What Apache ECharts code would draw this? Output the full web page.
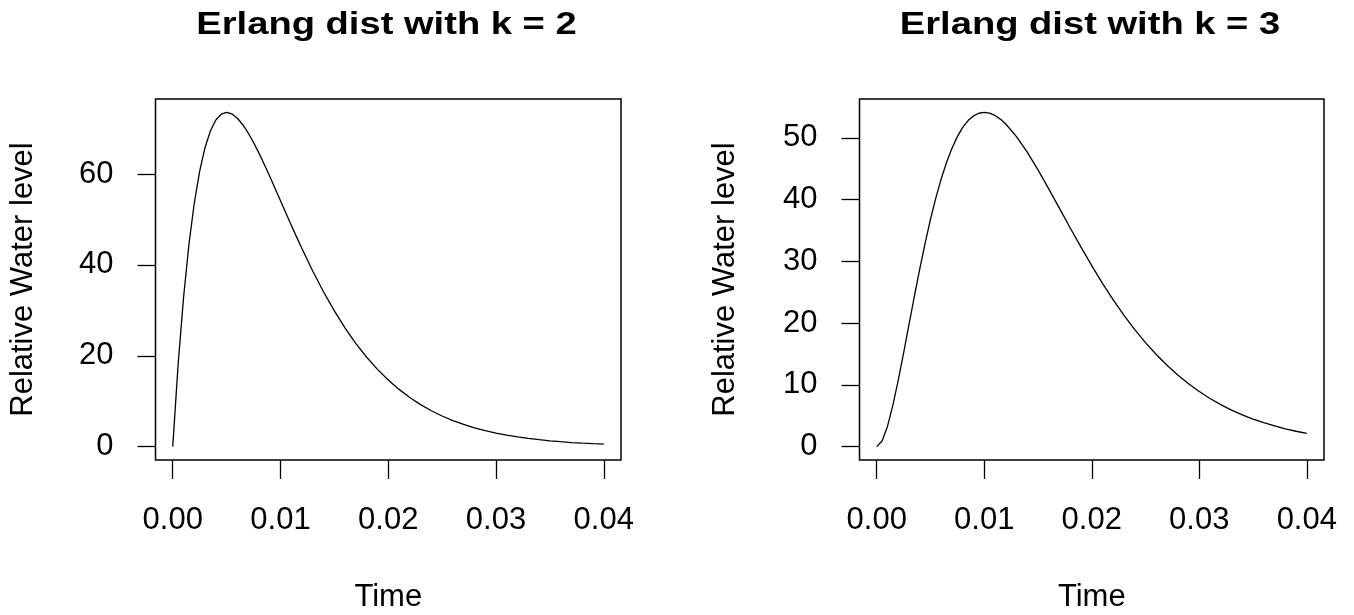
<!DOCTYPE html>
<html>
<head>
<meta charset="utf-8">
<script src="https://cdn.jsdelivr.net/npm/echarts@6/dist/echarts.min.js"></script>
<style>
  html, body { margin: 0; padding: 0; background: #fff; }
  #chart { width: 1354px; height: 615px; }
</style>
</head>
<body>
<div id="chart"></div>
<script>
// ---- data ----
var time = [0, 0.0005, 0.001, 0.0015, 0.002, 0.0025, 0.003, 0.0035, 0.004, 0.0045,
  0.005, 0.0055, 0.006, 0.0065, 0.007, 0.0075, 0.008, 0.0085, 0.009, 0.0095,
  0.01, 0.0105, 0.011, 0.0115, 0.012,
  0.013, 0.014, 0.015, 0.016, 0.017, 0.018, 0.019, 0.020, 0.021, 0.022,
  0.023, 0.024, 0.025, 0.026, 0.027, 0.028, 0.029, 0.030, 0.031, 0.032,
  0.033, 0.034, 0.035, 0.036, 0.037, 0.038, 0.039, 0.040];

var levelK2 = [0, 18.10, 32.75, 44.45, 53.63, 60.65, 65.86, 69.52, 71.89, 73.18,
  73.58, 73.23, 72.29, 70.86, 69.05, 66.94, 64.61, 62.11, 59.51, 56.84,
  54.13, 51.43, 48.75, 46.12, 43.54,
  38.62, 34.05, 29.87, 26.09, 22.69, 19.67, 17.00, 14.65, 12.60, 10.80,
  9.25, 7.90, 6.74, 5.74, 4.88, 4.14, 3.51, 2.97, 2.52, 2.13,
  1.80, 1.52, 1.28, 1.08, 0.90, 0.76, 0.64, 0.54];

var levelK3 = [0, 0.90, 3.27, 6.67, 10.73, 15.16, 19.76, 24.33, 28.76, 32.93,
  36.79, 40.28, 43.37, 46.06, 48.33, 50.20, 51.69, 52.80, 53.56, 53.99,
  54.13, 54.00, 53.63, 53.04, 52.25,
  50.21, 47.68, 44.81, 41.74, 38.58, 35.41, 32.30, 29.31, 26.45, 23.77,
  21.27, 18.96, 16.85, 14.92, 13.17, 11.60, 10.19, 8.92, 7.80, 6.81,
  5.92, 5.15, 4.47, 3.87, 3.35, 2.89, 2.49, 2.14];

var xTicks = [0, 0.01, 0.02, 0.03, 0.04];
var yTicksK2 = [0, 20, 40, 60];
var yTicksK3 = [0, 10, 20, 30, 40, 50];

var titles = ['Erlang dist with k = 2', 'Erlang dist with k = 3'];
var xName = 'Time';
var yName = 'Relative Water level';

// ---- chart ----
var FONT = '"Liberation Sans", Arial, sans-serif';
function padRange(arr) {
  var lo = Math.min.apply(null, arr), hi = Math.max.apply(null, arr);
  var d = (hi - lo) * 0.04;
  return [lo - d, hi + d];
}
function pairs(xs, ys) { return xs.map(function (x, i) { return [x, ys[i]]; }); }

var xr = padRange(time);
var yr2 = padRange(levelK2);
var yr3 = padRange(levelK3);

var grids = [
  { left: 155.5, top: 99, width: 465.5, height: 361 },
  { left: 859.5, top: 99, width: 464.5, height: 361 }
];

function xAxisCfg(gi) {
  return {
    type: 'value', gridIndex: gi, min: xr[0], max: xr[1],
    name: xName, nameLocation: 'middle', nameGap: 122,
    nameTextStyle: { fontFamily: FONT, fontSize: 31, color: '#000', lineHeight: 31 },
    axisLine: { show: false, onZero: false },
    splitLine: { show: false },
    axisTick: { show: true, inside: false, length: 19, customValues: xTicks,
      lineStyle: { color: '#000', width: 1.3 } },
    axisLabel: { show: true, customValues: xTicks, margin: 45,
      fontFamily: FONT, fontSize: 31, color: '#000', lineHeight: 31,
      formatter: function (v) { return v.toFixed(2); } }
  };
}
function yAxisCfg(gi, yr, ticks, gap) {
  return {
    type: 'value', gridIndex: gi, min: yr[0], max: yr[1],
    name: yName, nameLocation: 'middle', nameGap: gap, nameRotate: 90,
    nameTextStyle: { fontFamily: FONT, fontSize: 31, color: '#000', lineHeight: 31 },
    axisLine: { show: false, onZero: false },
    splitLine: { show: false },
    axisTick: { show: true, inside: false, length: 18, customValues: ticks,
      lineStyle: { color: '#000', width: 1.3 } },
    axisLabel: { show: true, customValues: ticks, margin: 42,
      fontFamily: FONT, fontSize: 31, color: '#000', lineHeight: 31,
      padding: [6, 0, 0, 0],
      formatter: function (v) { return String(Math.round(v)); } }
  };
}

var chart = echarts.init(document.getElementById('chart'), null, { renderer: 'canvas' });
chart.setOption({
  animation: false,
  backgroundColor: '#fff',
  grid: grids.map(function (g) {
    return Object.assign({ show: true, borderColor: '#000', borderWidth: 1.5,
      backgroundColor: 'transparent', containLabel: false, outerBoundsMode: 'none' }, g);
  }),
  xAxis: [xAxisCfg(0), xAxisCfg(1)],
  yAxis: [yAxisCfg(0, yr2, yTicksK2, 117), yAxisCfg(1, yr3, yTicksK3, 119)],
  graphic: [
    { type: 'text', x: 386.5, y: 25, scaleX: 1.23, scaleY: 1, silent: true,
      style: { text: titles[0], font: 'bold 31px ' + FONT, fill: '#000',
        align: 'center', verticalAlign: 'middle' } },
    { type: 'text', x: 1090, y: 25, scaleX: 1.23, scaleY: 1, silent: true,
      style: { text: titles[1], font: 'bold 31px ' + FONT, fill: '#000',
        align: 'center', verticalAlign: 'middle' } }
  ],
  series: [
    { type: 'line', xAxisIndex: 0, yAxisIndex: 0, data: pairs(time, levelK2),
      showSymbol: false, symbol: 'none', smooth: false,
      lineStyle: { color: '#000', width: 1.3 } },
    { type: 'line', xAxisIndex: 1, yAxisIndex: 1, data: pairs(time, levelK3),
      showSymbol: false, symbol: 'none', smooth: false,
      lineStyle: { color: '#000', width: 1.3 } }
  ]
});
</script>
</body>
</html>
